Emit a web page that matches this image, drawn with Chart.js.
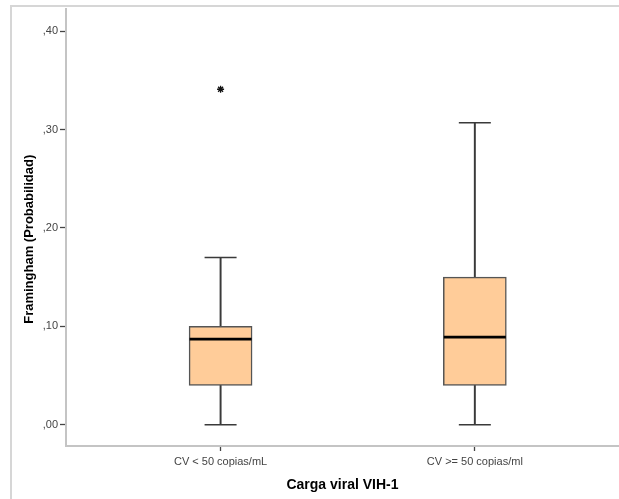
<!DOCTYPE html>
<html>
<head>
<meta charset="utf-8">
<script src="https://cdn.jsdelivr.net/npm/chart.js@4.4.0/dist/chart.umd.min.js"></script>
<style>
  html, body { margin: 0; padding: 0; background: #fff; }
  #wrap { width: 619px; height: 499px; position: relative; }
</style>
</head>
<body>
<div id="wrap"><canvas id="c" width="619" height="499"></canvas></div>
<script>
// ---- Data ----
const categories = ['CV < 50 copias/mL', 'CV >= 50 copias/ml'];
const whiskerMin = [0.000, 0.000];
const q1         = [0.040, 0.040];
const medians    = [0.087, 0.089];
const q3         = [0.100, 0.150];
const whiskerMax = [0.170, 0.307];
const outliers   = [{ group: 1, value: 0.341 }];
const yTicks     = [0.0, 0.1, 0.2, 0.3, 0.4];

const xTitle = 'Carga viral VIH-1';
const yTitle = 'Framingham (Probabilidad)';

// ---- Build datasets ----
const pos = categories.map((_, i) => i + 1);
const stemData = pos.map((x, i) => ({ x, y: [whiskerMin[i], whiskerMax[i]] }));
const boxData = pos.map((x, i) => ({ x, y: [q1[i], q3[i]] }));
const medData = pos.map((x, i) => ({ x, y: medians[i] }));
const capData = [];
pos.forEach((x, i) => { capData.push({ x, y: whiskerMin[i] }); capData.push({ x, y: whiskerMax[i] }); });
const outData = outliers.map(o => ({ x: o.group, y: o.value }));

const fmt = v => {
  const s = Math.abs(v).toFixed(2);
  return s.replace(/^0\./, ',');
};

const framePlugin = {
  id: 'frame',
  beforeDraw(chart) {
    const ctx = chart.ctx;
    ctx.save();
    ctx.strokeStyle = '#d6d6d6';
    ctx.lineWidth = 2;
    ctx.beginPath();
    ctx.moveTo(11, 499);
    ctx.lineTo(11, 6);
    ctx.lineTo(619, 6);
    ctx.stroke();
    ctx.restore();
  },
  afterDraw(chart) {
    const ctx = chart.ctx;
    const ys = chart.scales.y;
    ctx.save();
    ctx.fillStyle = '#000';
    ctx.font = 'bold 13px "Liberation Sans", Arial, sans-serif';
    ctx.textAlign = 'center';
    ctx.textBaseline = 'middle';
    ctx.translate(29, (ys.top + ys.bottom) / 2 + 12);
    ctx.rotate(-Math.PI / 2);
    ctx.fillText(yTitle, 0, 0);
    ctx.restore();
  }
};

new Chart(document.getElementById('c'), {
  type: 'bar',
  data: {
    datasets: [
      {
        type: 'bar', label: 'stem', data: stemData,
        backgroundColor: '#3a3a3a', barThickness: 1.3, grouped: false, order: 5
      },
      {
        type: 'bar', label: 'box', data: boxData,
        backgroundColor: '#FFCC99', borderColor: '#555555', borderWidth: 1.5,
        borderSkipped: false, barThickness: 63, grouped: false, order: 4
      },
      {
        type: 'line', label: 'median', data: medData, showLine: false,
        pointStyle: 'line', pointRadius: 31, pointBorderWidth: 2.6,
        pointBorderColor: '#000', pointBackgroundColor: '#000', order: 1
      },
      {
        type: 'line', label: 'caps', data: capData, showLine: false,
        pointStyle: 'line', pointRadius: 16, pointBorderWidth: 1.5,
        pointBorderColor: '#3a3a3a', order: 2
      },
      {
        type: 'line', label: 'outlier', data: outData, showLine: false,
        pointStyle: 'star', pointRadius: 3.5, pointBorderWidth: 1.3,
        pointBorderColor: '#111', order: 0
      }
    ]
  },
  options: {
    responsive: false,
    animation: false,
    devicePixelRatio: 1,
    layout: { autoPadding: false, padding: { left: 0, right: 0, top: 6, bottom: 0 } },
    plugins: { legend: { display: false }, tooltip: { enabled: false } },
    scales: {
      x: {
        type: 'linear',
        offset: false,
        min: 0.392,
        max: 2.567,
        afterBuildTicks: s => { s.ticks = pos.map(v => ({ value: v })); },
        afterFit: s => { s.height = 53; },
        ticks: {
          callback: v => categories[v - 1] || '',
          color: '#444',
          font: { family: '"Liberation Sans", Arial, sans-serif', size: 11 },
          padding: 4,
          maxRotation: 0,
          autoSkip: false
        },
        grid: { offset: false, drawOnChartArea: false, tickLength: 5, tickColor: '#444', tickWidth: 1.3 },
        border: { color: '#c4c4c4', width: 2 },
        title: {
          display: true, text: xTitle, color: '#000',
          font: { family: '"Liberation Sans", Arial, sans-serif', size: 14, weight: 'bold' },
          padding: { top: 0, bottom: 5 }
        }
      },
      y: {
        type: 'linear',
        min: -0.0217,
        max: 0.423,
        afterBuildTicks: s => { s.ticks = yTicks.map(v => ({ value: v })); },
        afterFit: s => { s.width = 66; },
        ticks: {
          callback: v => fmt(v),
          color: '#444',
          font: { family: '"Liberation Sans", Arial, sans-serif', size: 11 },
          padding: 2
        },
        grid: { drawOnChartArea: false, tickLength: 6, tickColor: '#444', tickWidth: 1.3 },
        border: { color: '#c4c4c4', width: 2 }
      }
    }
  },
  plugins: [framePlugin]
});
</script>
</body>
</html>
